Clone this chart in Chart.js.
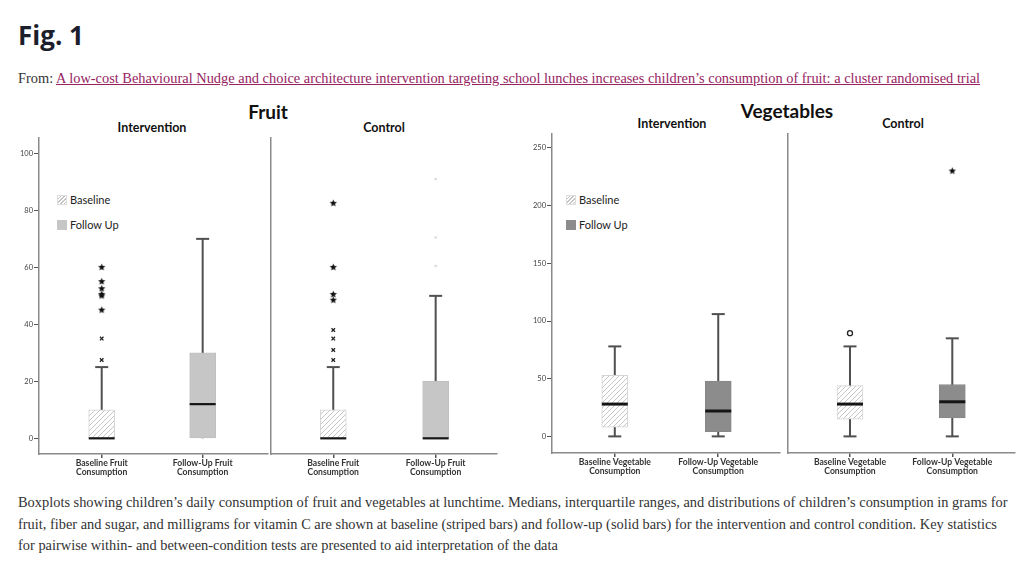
<!DOCTYPE html>
<html>
<head>
<meta charset="utf-8">
<script src="https://cdn.jsdelivr.net/npm/chart.js@4.4.1/dist/chart.umd.min.js"></script>
<style>
  body { margin: 0; background: #fff; }
  #page { position: relative; width: 1030px; height: 569px; overflow: hidden; color: #333; }
  .t { position: absolute; white-space: nowrap; }
  #fig { left: 18px; top: 18px; font: bold 26px "Open Sans", sans-serif; color: #1d1e2c; line-height: 34px; }
  #from { left: 18px; top: 69px; font: 14.4px "Liberation Serif", serif; line-height: 18px; }
  #from a { color: #96235f; text-decoration: underline; }
  .big { font: bold 19px Lato, sans-serif; color: #111; text-align: center; width: 160px; line-height: 22px; }
  .sub { font: bold 12.5px Lato, sans-serif; color: #111; text-align: center; width: 120px; line-height: 14px; }
  .leg { font: 11px Lato, sans-serif; color: #222; line-height: 13px; }
  .sw { display: inline-block; width: 10px; height: 10px; vertical-align: -1px; margin-right: 3px; }
  .hatch { background: repeating-linear-gradient(135deg, #fff 0 1.6px, #c4c4c4 1.6px 2.6px); border: 1px solid #ddd; box-sizing: border-box; }
  #cap { left: 18px; top: 492px; width: 995px; font: 14.4px "Liberation Serif", serif; line-height: 21.5px; white-space: normal; }
  canvas { position: absolute; }
</style>
</head>
<body>
<div id="page">
  <div class="t" id="fig">Fig. 1</div>
  <div class="t" id="from">From: <a href="#">A low-cost Behavioural Nudge and choice architecture intervention targeting school lunches increases children’s consumption of fruit: a cluster randomised trial</a></div>

  <div class="t big" style="left:188px;top:101px">Fruit</div>
  <div class="t big" style="left:707px;top:100px">Vegetables</div>
  <div class="t sub" style="left:92px;top:121px">Intervention</div>
  <div class="t sub" style="left:324px;top:121px">Control</div>
  <div class="t sub" style="left:612px;top:117px">Intervention</div>
  <div class="t sub" style="left:843px;top:117px">Control</div>

  <div class="t leg" style="left:57px;top:193px"><span class="sw hatch"></span>Baseline</div>
  <div class="t leg" style="left:57px;top:218px"><span class="sw" style="background:#c6c6c6"></span>Follow Up</div>
  <div class="t leg" style="left:566px;top:193px"><span class="sw hatch"></span>Baseline</div>
  <div class="t leg" style="left:566px;top:218px"><span class="sw" style="background:#8c8c8c"></span>Follow Up</div>

  <canvas id="fruit-int" width="270" height="380" style="left:0;top:100px"></canvas>
  <canvas id="fruit-ctl" width="230" height="380" style="left:270px;top:100px"></canvas>
  <canvas id="veg-int" width="270" height="390" style="left:520px;top:95px"></canvas>
  <canvas id="veg-ctl" width="235" height="390" style="left:787px;top:95px"></canvas>

  <div class="t" id="cap">Boxplots showing children’s daily consumption of fruit and vegetables at lunchtime. Medians, interquartile ranges, and distributions of children’s consumption in grams for fruit, fiber and sugar, and milligrams for vitamin C are shown at baseline (striped bars) and follow-up (solid bars) for the intervention and control condition. Key statistics for pairwise within- and between-condition tests are presented to aid interpretation of the data</div>
</div>

<script>
const fruitCats = [["Baseline Fruit", "Consumption"], ["Follow-Up Fruit", "Consumption"]]
const vegCats = [["Baseline Vegetable", "Consumption"], ["Follow-Up Vegetable", "Consumption"]]
const fruitTicks = [0, 20, 40, 60, 80, 100]
const vegTicks = [0, 50, 100, 150, 200, 250]

// each box: [lower whisker, Q1, median, Q3, upper whisker] -> baseline, follow-up
const fruitInterventionBoxes = [[0, 0, 0, 10, 25], [0, 0, 12, 30, 70]]
const fruitControlBoxes = [[0, 0, 0, 10, 25], [0, 0, 0, 20, 50]]
const vegInterventionBoxes = [[0, 8, 28, 53, 78], [0, 4, 22, 48, 106]]
const vegControlBoxes = [[0, 15, 28, 44, 78], [0, 16, 30, 45, 85]]

// outliers (o / x) and extremes (*) per box
const fruitInterventionOut = [[35, 27.5], []]
const fruitInterventionExt = [[60, 55, 52.5, 50.5, 50, 45], []]
const fruitControlOut = [[38, 35, 31, 27.5], []]
const fruitControlExt = [[82.5, 60, 50.5, 48.5], []]
const fruitControlFaint = [[], [91, 70.5, 60.5]]
const vegControlOut = [[89.5], []]
const vegControlExt = [[], [230]]

Chart.defaults.font.family = "Lato"
Chart.defaults.animation = false

function starImg(r) {
  const c = document.createElement("canvas")
  c.width = c.height = r * 2 + 2
  const g = c.getContext("2d")
  g.fillStyle = "#111"
  g.beginPath()
  for (let i = 0; i < 10; i++) {
    const a = -Math.PI / 2 + i * Math.PI / 5
    const rr = i % 2 ? r * 0.45 : r
    g.lineTo(c.width / 2 + rr * Math.cos(a), c.height / 2 + rr * Math.sin(a))
  }
  g.fill()
  return c
}

function hatch(ctx) {
  const c = document.createElement("canvas")
  c.width = c.height = 5
  const g = c.getContext("2d")
  g.fillStyle = "#fff"
  g.fillRect(0, 0, 5, 5)
  g.strokeStyle = "#c6c6c6"
  g.lineWidth = 1
  g.beginPath()
  g.moveTo(-1, 6); g.lineTo(6, -1)
  g.moveTo(-1, 1); g.lineTo(1, -1)
  g.moveTo(4, 6); g.lineTo(6, 4)
  g.stroke()
  return ctx.createPattern(c, "repeat")
}

const pts = (groups) => groups.flatMap((vals, i) => vals.map(v => ({ x: i + 1, y: v })))

function panel(id, cats, boxes, o) {
  const el = document.getElementById(id)
  const ctx = el.getContext("2d")
  const whiskers = boxes.flatMap((b, i) => [{ x: i + 1, y: b[0] }, { x: i + 1, y: b[4] }, { x: i + 1.5, y: null }])
  const caps = boxes.flatMap((b, i) => [b[0] < b[1] ? { x: i + 1, y: b[0] } : null, b[4] > b[3] ? { x: i + 1, y: b[4] } : null]).filter(Boolean)
  const medians = boxes.map((b, i) => ({ x: i + 1, y: b[2] }))
  const dot = { type: "line", showLine: false }
  return new Chart(ctx, {
    type: "bar",
    data: {
      datasets: [
        { ...dot, data: pts(o.ext || [[], []]), pointStyle: starImg(3.8), pointRadius: 4 },
        { ...dot, data: pts(o.out || [[], []]), pointStyle: o.outStyle || "crossRot", pointRadius: 2.5, pointBorderWidth: 1.3, pointBorderColor: "#222", pointBackgroundColor: "#fff" },
        { ...dot, data: pts(o.faint || [[], []]), pointStyle: "rect", pointRadius: 1.6, pointBorderWidth: 0, pointBackgroundColor: "#d9d9d9" },
        { ...dot, data: medians, pointStyle: "line", pointRadius: 13, pointBorderWidth: o.medianW, pointBorderColor: "#151515" },
        { ...dot, data: caps, pointStyle: "line", pointRadius: 6.5, pointBorderWidth: 2, pointBorderColor: "#505050" },
        { type: "bar", data: boxes.map((b, i) => ({ x: i + 1, y: [b[1], b[3]] })),
          backgroundColor: [hatch(ctx), o.follow], borderColor: ["#d4d4d4", o.followBorder],
          borderWidth: 1, borderSkipped: false, barThickness: 26 },
        { type: "line", data: whiskers, borderColor: "#505050", borderWidth: 2, pointRadius: 0, spanGaps: false }
      ]
    },
    options: {
      responsive: false,
      animation: false,
      layout: { padding: o.pad, autoPadding: false },
      plugins: { legend: { display: false }, tooltip: { enabled: false } },
      scales: {
        x: {
          type: "linear", min: o.xRange[0], max: o.xRange[1], offset: false,
          afterBuildTicks: s => { s.ticks = cats.map((c, i) => ({ value: i + 1 })) },
          afterFit: s => { s.height = o.xHeight; s.paddingLeft = 0; s.paddingRight = 0 },
          ticks: { callback: v => cats[v - 1], autoSkip: false, maxRotation: 0, minRotation: 0, padding: 1,
                   font: { size: 8.6, weight: "bold", lineHeight: 1.0 }, color: "#333" },
          grid: { drawOnChartArea: false, drawTicks: true, tickLength: 4, color: "#555", offset: false, lineWidth: 1.5 },
          border: { display: true, color: "#8a8a8a", width: 1.5 }
        },
        y: {
          min: o.yRange[0], max: o.yRange[1],
          afterBuildTicks: s => { s.ticks = o.yTicks.map(v => ({ value: v })) },
          afterFit: s => { s.width = o.yWidth; s.paddingTop = 0; s.paddingBottom = 0 },
          ticks: { display: o.showY, font: { size: 7.5 }, color: "#444", padding: 1 },
          grid: { display: o.showY, drawOnChartArea: false, drawTicks: true, tickLength: 5, color: "#555" },
          border: { display: true, color: "#8a8a8a", width: 1.5 }
        }
      }
    }
  })
}

panel("fruit-int", fruitCats, fruitInterventionBoxes, {
  follow: "#c6c6c6", followBorder: "#c0c0c0", medianW: 2.2,
  ext: fruitInterventionExt, out: fruitInterventionOut,
  pad: { top: 38, right: 2, bottom: 0, left: 0 }, yWidth: 39, xHeight: 26,
  xRange: [0.379, 2.647], yRange: [-5.5, 105.4], yTicks: fruitTicks, showY: true
})
panel("fruit-ctl", fruitCats, fruitControlBoxes, {
  follow: "#c6c6c6", followBorder: "#c0c0c0", medianW: 2.2,
  ext: fruitControlExt, out: fruitControlOut, faint: fruitControlFaint,
  pad: { top: 38, right: 3, bottom: 0, left: 1 }, yWidth: 0, xHeight: 26,
  xRange: [0.392, 2.599], yRange: [-5.5, 105.4], yTicks: fruitTicks, showY: false
})
panel("veg-int", vegCats, vegInterventionBoxes, {
  follow: "#8c8c8c", followBorder: "#888", medianW: 3,
  pad: { top: 39, right: 10, bottom: 0, left: 0 }, yWidth: 32, xHeight: 32,
  xRange: [0.393, 2.597], yRange: [-14.4, 262.1], yTicks: vegTicks, showY: true
})
panel("veg-ctl", vegCats, vegControlBoxes, {
  follow: "#8c8c8c", followBorder: "#888", medianW: 3,
  ext: vegControlExt, out: vegControlOut, outStyle: "circle",
  pad: { top: 39, right: 7, bottom: 0, left: 1 }, yWidth: 0, xHeight: 32,
  xRange: [0.394, 2.613], yRange: [-14.4, 262.1], yTicks: vegTicks, showY: false
})
</script>
</body>
</html>
